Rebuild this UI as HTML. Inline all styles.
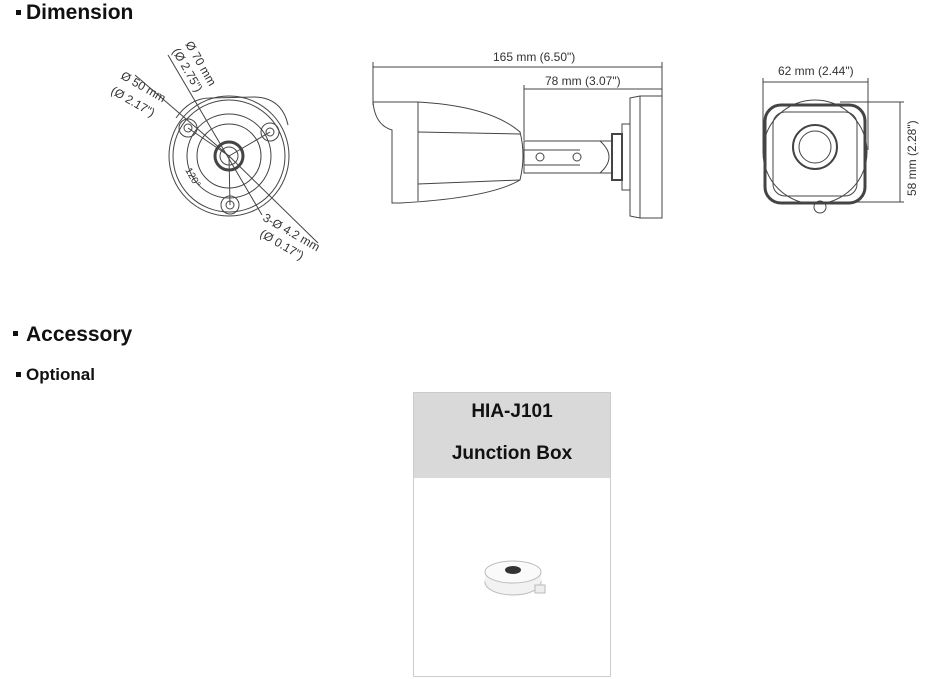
<!DOCTYPE html>
<html><head><meta charset="utf-8"><style>
body{margin:0;width:926px;height:679px;background:#fff;position:relative;overflow:hidden;font-family:"Liberation Sans",sans-serif}
.h{position:absolute;font-weight:bold;color:#111}
.sq{position:absolute;background:#111}
</style></head><body>
<div class="sq" style="left:16px;top:10px;width:5px;height:5px"></div>
<div class="h" style="left:26px;top:1px;font-size:21px">Dimension</div>
<div class="sq" style="left:13px;top:331px;width:5px;height:5px"></div>
<div class="h" style="left:26px;top:323px;font-size:21px">Accessory</div>
<div class="sq" style="left:16px;top:372px;width:5px;height:5px"></div>
<div class="h" style="left:26px;top:365px;font-size:17px">Optional</div>

<div style="position:absolute;left:413px;top:392px;width:198px;height:285px;border:1px solid #ccc;box-sizing:border-box">
 <div style="background:#d9d9d9;height:85px;text-align:center;font-weight:bold;font-size:19px;color:#111">
  <div style="padding-top:8px">HIA-J101</div>
  <div style="padding-top:20px">Junction Box</div>
 </div>
</div>

<svg width="926" height="679" style="position:absolute;left:0;top:0" font-family="Liberation Sans, sans-serif" fill="none" stroke="#333" stroke-width="1">
 <g>
  <ellipse cx="513" cy="582" rx="28" ry="13" fill="#f2f2f2" stroke="#bbb"/>
  <rect x="485" y="572" width="56" height="10" fill="#f2f2f2" stroke="none"/>
  <ellipse cx="513" cy="572" rx="28" ry="11" fill="#fafafa" stroke="#bbb"/>
  <ellipse cx="513" cy="570" rx="8" ry="4" fill="#333" stroke="none"/>
  <rect x="535" y="585" width="10" height="8" fill="#eee" stroke="#bbb"/>
 </g>
 <g stroke="#444">
  <path d="M176 118 Q190 98 210 98 L255 97 Q282 98 288 125" />
  <circle cx="229" cy="156" r="60"/>
  <circle cx="229" cy="156" r="56"/>
  <circle cx="229" cy="156" r="42"/>
  <circle cx="229" cy="156" r="32"/>
  <circle cx="229" cy="156" r="14" stroke-width="3"/>
  <circle cx="229" cy="156" r="9"/>
  <circle cx="188" cy="128" r="9"/><circle cx="188" cy="128" r="4"/>
  <circle cx="270" cy="132" r="9"/><circle cx="270" cy="132" r="4"/>
  <circle cx="230" cy="205" r="9"/><circle cx="230" cy="205" r="4"/>
  <line x1="135" y1="75" x2="229" y2="156"/>
  <line x1="168" y1="55" x2="262" y2="215"/>
  <line x1="229" y1="156" x2="318" y2="243"/>
  <line x1="229" y1="156" x2="270" y2="132"/>
  <line x1="229" y1="156" x2="188" y2="128"/>
  <line x1="229" y1="156" x2="230" y2="205"/>
 </g>
 <g fill="#333" stroke="none" font-size="12">
  <text transform="translate(185,44) rotate(60)">Ø 70 mm</text>
  <text transform="translate(172,51) rotate(60)">(Ø 2.75")</text>
  <text transform="translate(120,78) rotate(30)">Ø 50 mm</text>
  <text transform="translate(110,93) rotate(30)">(Ø 2.17")</text>
  <text transform="translate(185,170) rotate(60)" font-size="10">120°</text>
  <text transform="translate(262,220) rotate(30)">3-Ø 4.2 mm</text>
  <text transform="translate(259,236) rotate(30)">(Ø 0.17")</text>
 </g>
 <g stroke="#444">
  <line x1="373" y1="67" x2="662" y2="67"/>
  <line x1="373" y1="62" x2="373" y2="105"/><line x1="662" y1="62" x2="662" y2="96"/>
  <line x1="524" y1="89" x2="662" y2="89"/><line x1="524" y1="85" x2="524" y2="140"/>
  <path d="M373 102 L418 102 Q490 106 520 132 Q526 155 520 180 Q490 198 400 203 L392 203 L392 130 Q375 125 373 102Z"/>
  <line x1="418" y1="102" x2="418" y2="201"/>
  <line x1="418" y1="132" x2="520" y2="134"/><line x1="418" y1="184" x2="520" y2="180"/>
  <rect x="524" y="141" width="88" height="32"/>
  <line x1="524" y1="150" x2="580" y2="150"/><line x1="524" y1="165" x2="580" y2="165"/>
  <circle cx="540" cy="157" r="4"/><circle cx="577" cy="157" r="4"/>
  <path d="M600 141 Q618 157 600 173"/>
  <rect x="612" y="134" width="10" height="46" stroke-width="2"/>
  <rect x="622" y="124" width="8" height="66"/>
  <path d="M630 98 L640 96 L662 96 L662 218 L640 218 L630 216Z"/>
  <line x1="640" y1="96" x2="640" y2="218"/>
 </g>
 <g fill="#333" stroke="none" font-size="12">
  <text x="493" y="61">165 mm (6.50")</text>
  <text x="545" y="85">78 mm  (3.07")</text>
 </g>
 <g stroke="#444">
  <line x1="763" y1="82" x2="868" y2="82"/>
  <line x1="763" y1="78" x2="763" y2="150"/><line x1="868" y1="78" x2="868" y2="150"/>
  <line x1="900" y1="102" x2="900" y2="202"/>
  <line x1="840" y1="102" x2="904" y2="102"/><line x1="840" y1="202" x2="904" y2="202"/>
  <circle cx="815" cy="152" r="52"/>
  <rect x="765" y="105" width="100" height="98" rx="16" stroke-width="3"/>
  <rect x="773" y="112" width="84" height="84" rx="12"/>
  <circle cx="815" cy="147" r="22" stroke-width="2"/>
  <circle cx="815" cy="147" r="16"/>
  <circle cx="820" cy="207" r="6"/>
 </g>
 <g fill="#333" stroke="none" font-size="12">
  <text x="778" y="75">62 mm (2.44")</text>
  <text transform="translate(916,196) rotate(-90)">58 mm (2.28")</text>
 </g>
</svg>
</body></html>
